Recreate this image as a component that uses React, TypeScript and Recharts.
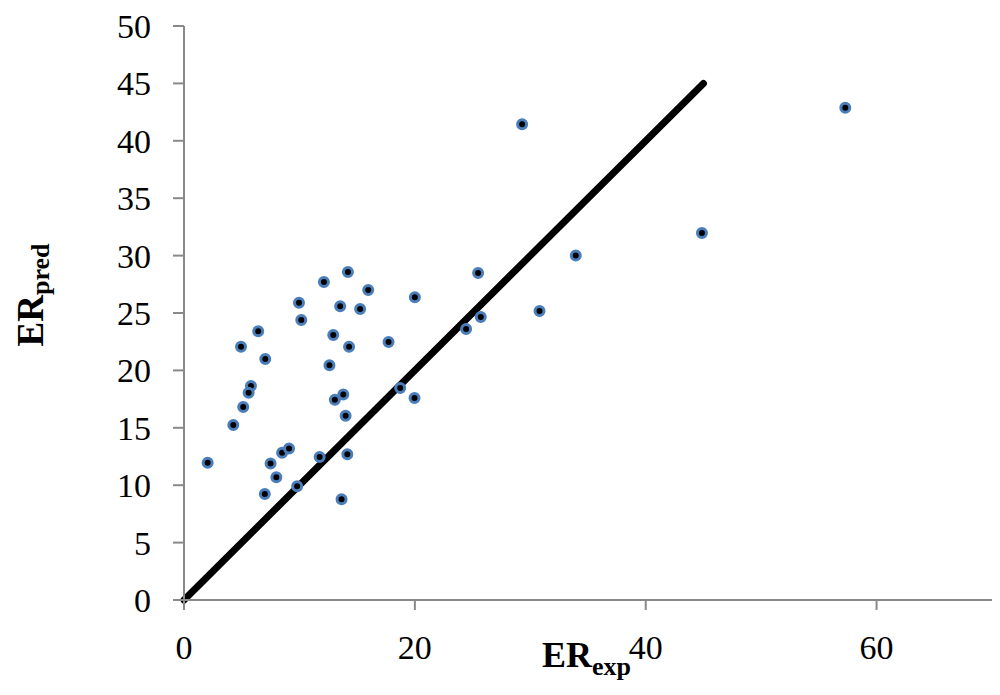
import React from 'react';
import { ScatterChart, Scatter, XAxis, YAxis, ReferenceLine } from 'recharts';

const erExp = [2.05, 7.0, 7.5, 8.0, 8.5, 9.1, 9.8, 11.75, 13.65, 14.15, 14.0, 13.07, 13.8, 12.6, 14.3, 12.93, 13.53, 12.12, 14.2, 15.96, 15.26, 9.96, 10.16, 6.43, 4.94, 7.04, 5.8, 5.6, 5.13, 4.27, 20.0, 17.72, 18.73, 19.97, 25.48, 24.44, 25.71, 30.8, 33.94, 29.29, 44.87, 57.29];
const erPred = [11.96, 9.23, 11.9, 10.7, 12.83, 13.2, 9.9, 12.45, 8.77, 12.7, 16.05, 17.45, 17.9, 20.45, 22.05, 23.08, 25.58, 27.7, 28.57, 27.0, 25.35, 25.9, 24.39, 23.41, 22.06, 21.0, 18.64, 18.06, 16.81, 15.24, 26.37, 22.47, 18.47, 17.6, 28.48, 23.61, 24.65, 25.17, 30.0, 41.44, 31.97, 42.88];
const xTicks = [0, 20, 40, 60];
const yTicks = [0, 5, 10, 15, 20, 25, 30, 35, 40, 45, 50];
const lineStart = { x: 0, y: 0 };
const lineEnd = { x: 45, y: 45 };

const points = erExp.map((x, i) => ({ x, y: erPred[i] }));

const Dot = (props: any) => {
  const { cx, cy } = props;
  return <circle cx={cx} cy={cy} r={4.5} fill="#000" stroke="#4A7EBB" strokeWidth={3} />;
};

const XLabel = (props: any) => {
  const vb = props.viewBox;
  return (
    <text x={vb.x + 358} y={vb.y + 67} fontFamily="Liberation Serif" fontWeight="bold" fill="#000">
      <tspan fontSize={36}>ER</tspan>
      <tspan fontSize={26} dy={8}>exp</tspan>
    </text>
  );
};

const YLabel = (props: any) => {
  const vb = props.viewBox;
  const cx = vb.x + 43;
  const cy = vb.y + 269;
  return (
    <text x={cx} y={cy} transform={`rotate(-90, ${cx}, ${cy})`} textAnchor="middle" fontFamily="Liberation Serif" fontWeight="bold" fill="#000">
      <tspan fontSize={37}>ER</tspan>
      <tspan fontSize={26} dy={6}>pred</tspan>
    </text>
  );
};

const tickStyle = { fontFamily: 'Liberation Serif', fontSize: 34, fill: '#000' };
const axisStroke = '#898989';

export default function App() {
  return (
    <div style={{ position: 'absolute', left: 0, top: 0, background: '#fff' }}>
      <ScatterChart width={1000} height={695} margin={{ top: 26, right: 8, left: 0, bottom: 0 }}>
        <XAxis
          type="number"
          dataKey="x"
          domain={[0, 70]}
          ticks={xTicks}
          height={95}
          tickSize={10}
          tickMargin={25}
          tick={tickStyle}
          axisLine={{ stroke: axisStroke, strokeWidth: 2 }}
          tickLine={{ stroke: axisStroke, strokeWidth: 2 }}
          label={{ content: <XLabel /> }}
        />
        <YAxis
          type="number"
          dataKey="y"
          domain={[0, 50]}
          ticks={yTicks}
          width={184}
          tickSize={11}
          tickMargin={22}
          tick={tickStyle}
          axisLine={{ stroke: axisStroke, strokeWidth: 2 }}
          tickLine={{ stroke: axisStroke, strokeWidth: 2 }}
          label={{ content: <YLabel /> }}
        />
        <ReferenceLine
          segment={[lineStart, lineEnd]}
          stroke="#000"
          strokeWidth={7}
          strokeLinecap="round"
          ifOverflow="visible"
        />
        <Scatter data={points} shape={<Dot />} isAnimationActive={false} />
      </ScatterChart>
    </div>
  );
}
